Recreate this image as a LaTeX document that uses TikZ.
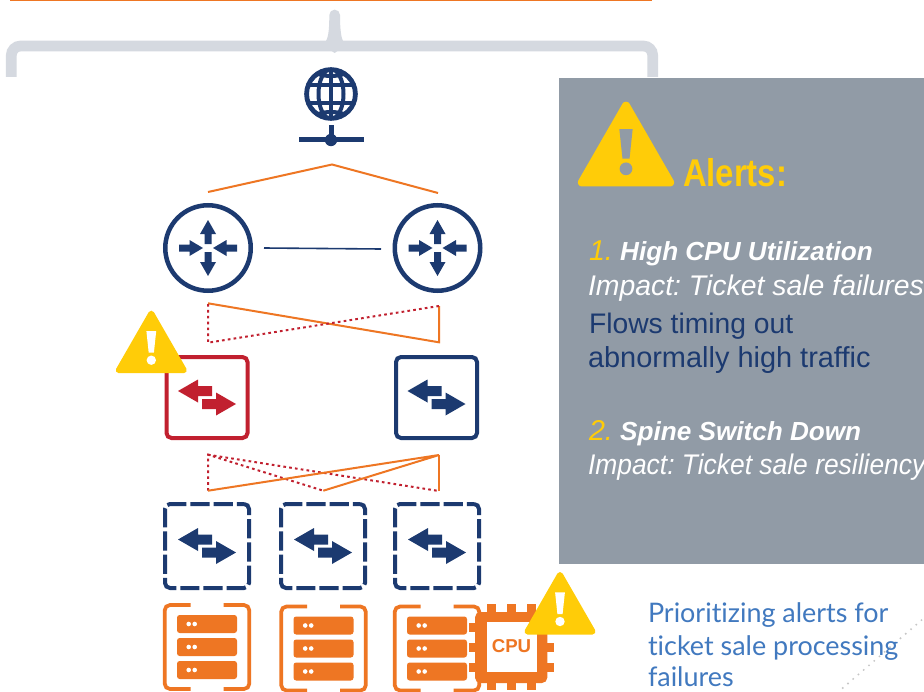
\documentclass[tikz,border=0pt]{standalone}
\usepackage{fontspec}
\setmainfont{Liberation Sans}
\newfontfamily\capfont[Ligatures=NoCommon]{Lato}
\usetikzlibrary{calc}
\definecolor{navy}{HTML}{1C3A70}
\definecolor{orng}{HTML}{EE7623}
\definecolor{alrtred}{HTML}{C1202F}
\definecolor{panelgray}{HTML}{919BA6}
\definecolor{brack}{HTML}{D5D9E0}
\definecolor{warnyel}{HTML}{FFCC08}
\definecolor{capblue}{HTML}{4179BF}
\tikzset{
  x=0.75pt,y=-0.75pt,
  routerbox/.style={circle,draw=navy,line width=3.4pt,minimum size=64.1pt,inner sep=0pt},
  switchbox/.style={rectangle,draw=#1,line width=3pt,minimum size=60.75pt,inner sep=0pt,rounded corners=3.75pt},
  leafbox/.style={rectangle,draw=navy,line width=3pt,minimum size=63pt,inner sep=0pt,rounded corners=3.75pt,dash pattern=on 14.4pt off 3pt,dash phase=9pt},
  uplink/.style={draw=orng,line width=1.5pt},
  downlink/.style={draw=alrtred,line width=1.5pt,dash pattern=on 2pt off 2.4pt},
  paneltext/.style={anchor=base west,inner sep=0pt,outer sep=0pt},
  capt/.style={anchor=base west,inner sep=0pt,outer sep=0pt,text=capblue,font=\capfont\fontsize{20.2}{24}\selectfont},
}
\newcommand{\swarrows}[3]{%
  \begin{scope}[shift={(#1,#2)}]
    \fill[#3] (-29,-6.5)--(-9,-18)--(-9,-11.5)--(5,-11.5)--(5,-1.5)--(-9,-1.5)--(-9,5)--cycle;
    \fill[#3] (29,6.5)--(9,18)--(9,11.5)--(-5,11.5)--(-5,1.5)--(9,1.5)--(9,-5)--cycle;
  \end{scope}}
\newcommand{\routerarrows}[2]{%
  \begin{scope}[shift={(#1,#2)}]
    \fill[navy] (0,-28)--(8,-14)--(3.5,-14)--(3.5,-4)--(-3.5,-4)--(-3.5,-14)--(-8,-14)--cycle;
    \fill[navy] (0,28)--(8,14)--(3.5,14)--(3.5,4)--(-3.5,4)--(-3.5,14)--(-8,14)--cycle;
    \fill[navy] (-29,-3.5)--(-18.5,-3.5)--(-18.5,-8)--(-5,0)--(-18.5,8)--(-18.5,3.5)--(-29,3.5)--cycle;
    \fill[navy] (29,-3.5)--(18.5,-3.5)--(18.5,-8)--(5,0)--(18.5,8)--(18.5,3.5)--(29,3.5)--cycle;
  \end{scope}}
\newcommand{\warn}[4]{%
  \begin{scope}[shift={(#1,#2)},scale=#3]
    \fill[warnyel,draw=warnyel,line join=round,line width=#3*4.5pt] (0,3)--(32.5,59.5)--(-32.5,59.5)--cycle;
    \fill[#4] (-4.9,20.3)--(4.9,20.3)--(2.6,42)--(-2.6,42)--cycle;
    \fill[#4] (0,49.5) circle (4.7);
  \end{scope}}
\newcommand{\server}[3]{% cx cy barcx
  \begin{scope}[shift={(#1,#2)}]
    \draw[orng,line width=2.8pt,rounded corners=4pt] (-16.5,-42)--(-42.3,-42)--(-42.3,42)--(-16.5,42);
    \draw[orng,line width=2.8pt,rounded corners=4pt] (16.5,-42)--(42.3,-42)--(42.3,42)--(16.5,42);
    \foreach \yy in {-23,0,23}{
      \fill[orng,rounded corners=2pt] (-30,\yy-9) rectangle (30,\yy+9);
      \fill[white] (-18.3,\yy) circle (2.3);
      \fill[white] (-12.3,\yy) circle (2.3);
    }
  \end{scope}}
\begin{document}
\begin{tikzpicture}
\frenchspacing
\useasboundingbox (0,0) rectangle (924,692);
\fill[white] (0,0) rectangle (924,692);
% top rule and bracket
\coordinate (ruleL) at (10,0.5);
\coordinate (ruleR) at (652,0.5);
\draw[orng,line width=0.8pt] (ruleL)--(ruleR);
\coordinate (brL) at (11.3,77);
\coordinate (brR) at (652.7,77);
\draw[brack,line width=8pt,rounded corners=7pt] (brL)--(11.3,46)--(652.7,46)--(brR);
\fill[brack] (326,41) .. controls (329,36) and (329.3,25) .. (329.3,15) arc[start angle=180,end angle=360,radius=5.35] .. controls (340,25) and (340.5,36) .. (343,41) -- (343,50.5) -- (338,50.5) -- (334.7,53) -- (331,50.5) -- (326,50.5) -- cycle;
% panel
\fill[panelgray] (559,78) rectangle (924,564);
% dotted grey trace
\coordinate (dotA) at (842.7,688);
\coordinate (dotB) at (924,618);
\draw[gray!45,line width=1.6pt,line cap=round,dash pattern=on 0pt off 5.2pt] (dotA)--(dotB);
% globe
\node[circle,draw=navy,line width=3.6pt,minimum size=36.6pt,inner sep=0pt] (globe) at (331,94) {};
\begin{scope}
\clip (331,94) circle (25);
\draw[navy,line width=3pt] (331,94) ellipse (12.5 and 25);
\draw[navy,line width=3.6pt] (331,67)--(331,121);
\draw[navy,line width=3pt] (304,85)--(358,85);
\draw[navy,line width=3pt] (304,103)--(358,103);
\draw[navy,line width=3pt] (331,54) ellipse (31 and 22);
\draw[navy,line width=3pt] (331,134) ellipse (31 and 22);
\end{scope}
\fill[navy] (328.5,125) rectangle (334,140);
\fill[navy] (299,137) rectangle (364,142);
\fill[navy] (331,140) circle (6.2);
% routers
\node[routerbox] (r1) at (208,248) {};
\node[routerbox] (r2) at (437.5,248) {};
\routerarrows{208}{248}
\routerarrows{437.5}{248}
\coordinate (rlinkA) at (264,248);
\coordinate (rlinkB) at (381,249);
\draw[navy,line width=1.2pt] (rlinkA)--(rlinkB);
% wan links
\coordinate (wanTop) at (332,164.5);
\coordinate (wanL) at (208,192);
\coordinate (wanR) at (438,193);
\draw[uplink] (wanL)--(wanTop)--(wanR);
% router-spine links
\coordinate (a1) at (208,303.3);
\coordinate (a2) at (439,342.3);
\coordinate (a3) at (439,306);
\coordinate (a4) at (208,342.7);
\draw[uplink] (a1)--(a2)--(a3);
\draw[downlink] (a3)--(a4)--(a1);
% spines
\node[switchbox=alrtred] (s1) at (207,397.5) {};
\node[switchbox=navy] (s2) at (436.5,397.5) {};
\swarrows{207}{397.5}{alrtred}
\swarrows{436.5}{397.5}{navy}
% spine-leaf links
\coordinate (b1) at (208,454.7);
\coordinate (b2) at (208,490.7);
\coordinate (b3) at (439,455);
\coordinate (b4) at (323.3,490.7);
\coordinate (b5) at (439,491);
\draw[downlink] (b2)--(b1)--(b4);
\draw[downlink] (b1)--(b5);
\draw[uplink] (b2)--(b3)--(b4);
\draw[uplink] (b5)--(b3);
% leaves
\node[leafbox] (l1) at (207,546) {};
\node[leafbox] (l2) at (323,546) {};
\node[leafbox] (l3) at (437,546) {};
\swarrows{207}{546}{navy}
\swarrows{323}{546}{navy}
\swarrows{437}{546}{navy}
% servers
\server{207}{647}{}
\server{323.5}{648.5}{}
\server{437}{648.5}{}
% cpu
\foreach \xx in {486.7,507,527}{
  \fill[orng] (\xx,604) rectangle (\xx+9,690);
}
\foreach \yy in {622.7,643,663}{
  \fill[orng] (469,\yy) rectangle (554,\yy+9);
}
\fill[orng,rounded corners=4pt] (475,612) rectangle (547.3,683);
\fill[white] (487.3,621.7) rectangle (536.7,671.7);
\node[text=orng,inner sep=0pt,font=\bfseries\fontsize{14}{16}\selectfont] (cpu) at (511.5,646.5) {CPU};
% warnings
\warn{151.3}{310.7}{1}{white}
\warn{560}{572}{1}{white}
\warn{626}{101.7}{1.356}{panelgray}
% panel text
\node[paneltext,text=warnyel,font=\bfseries\fontsize{29}{32}\selectfont] (alerts) at (683,186) {\addfontfeature{FakeStretch=0.85}Alerts:};
\node[paneltext,text=white,font=\bfseries\itshape\fontsize{19.6}{24}\selectfont] (al1) at (589,260) {\textcolor{warnyel}{\mdseries\fontsize{21.5}{24}\selectfont 1.} High CPU Utilization};
\node[paneltext,text=white,font=\itshape\fontsize{21.3}{24}\selectfont] (im1) at (588,295) {Impact: Ticket sale failures};
\node[paneltext,text=navy,font=\fontsize{21.2}{24}\selectfont] (fl1) at (589,333) {Flows timing out};
\node[paneltext,text=navy,font=\fontsize{21.7}{24}\selectfont] (fl2) at (588,367) {abnormally high traffic};
\node[paneltext,text=white,font=\bfseries\itshape\fontsize{19.6}{24}\selectfont] (al2) at (589,440) {\textcolor{warnyel}{\mdseries\fontsize{21.5}{24}\selectfont 2.} Spine Switch Down};
\node[paneltext,text=white,font=\itshape\fontsize{21.3}{24}\selectfont] (im2) at (588,474) {\addfontfeature{FakeStretch=0.93}Impact: Ticket sale resiliency};
% caption
\node[capt] (c1) at (648,622) {Prioritizing alerts for};
\node[capt] (c2) at (648,655) {ticket sale processing};
\node[capt] (c3) at (648,686) {failures};
\end{tikzpicture}
\end{document}
